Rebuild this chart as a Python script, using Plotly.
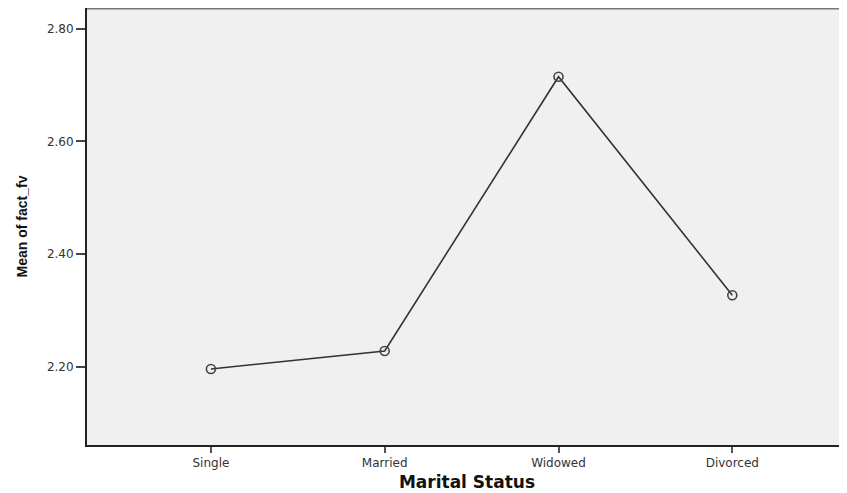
import plotly.graph_objects as go

categories = ["Single", "Married", "Widowed", "Divorced"]
means = [2.196, 2.228, 2.715, 2.327]
y_tick_vals = [2.20, 2.40, 2.60, 2.80]
y_tick_text = ["2.20", "2.40", "2.60", "2.80"]

fig = go.Figure()
fig.add_trace(go.Scatter(
    x=list(range(len(categories))), y=means, mode="lines+markers",
    line=dict(color="#333333", width=1.6),
    marker=dict(symbol="circle-open", size=9, color="#444444", line=dict(width=1.6)),
    showlegend=False,
))

# page body has an 8px offset, so the figure is sized to fit the window
fig.update_layout(
    width=839, height=485,
    margin=dict(l=79, r=0, t=0, b=48, autoexpand=False),
    paper_bgcolor="white", plot_bgcolor="#F0F0F0",
    font=dict(family="DejaVu Sans, Liberation Sans, sans-serif", size=12, color="#333333"),
    shapes=[dict(type="line", xref="paper", yref="paper", x0=0, x1=1, y0=1, y1=1,
                 line=dict(color="#777777", width=3))],
)
fig.update_xaxes(
    range=[-0.713, 3.66], tickvals=list(range(len(categories))), ticktext=categories,
    showgrid=False, zeroline=False, showline=True, linecolor="#222222", linewidth=2,
    ticks="outside", ticklen=6, tickwidth=2, tickcolor="#555555",
    title=dict(text="<b>Marital Status</b>",
               font=dict(family="DejaVu Sans, sans-serif", size=17, color="#111111"), standoff=7),
)
fig.update_yaxes(
    range=[2.061, 2.837], tickvals=y_tick_vals, ticktext=y_tick_text,
    showgrid=False, zeroline=False, showline=True, linecolor="#222222", linewidth=2,
    ticks="outside", ticklen=9, tickwidth=2, tickcolor="#444444",
    title=dict(text="<b>Mean of fact_fv</b>",
               font=dict(family="Liberation Sans Narrow, Liberation Sans, sans-serif", size=14, color="#111111"),
               standoff=16),
)

fig.write_html("out.html")
